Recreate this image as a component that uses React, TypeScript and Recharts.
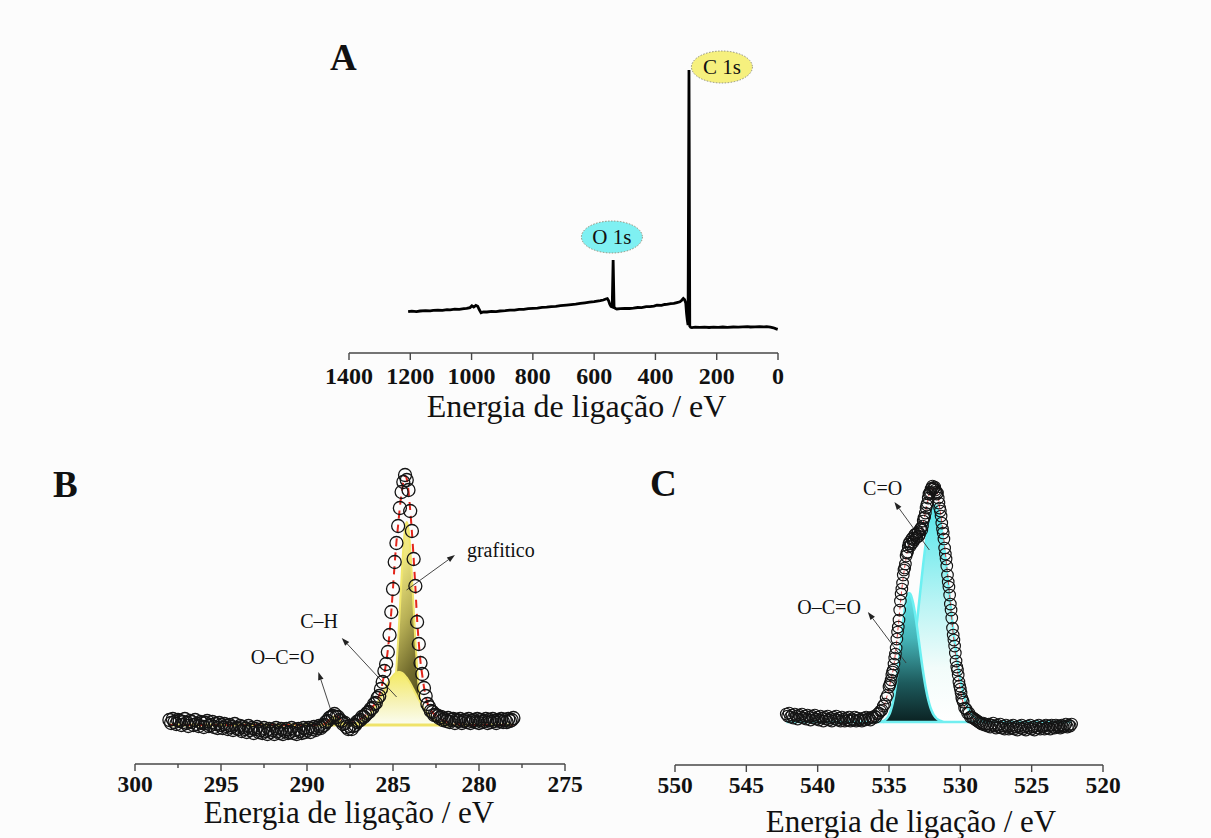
import {
  ComposedChart,
  LineChart,
  Line,
  Area,
  Scatter,
  XAxis,
  YAxis,
  ReferenceLine,
  ReferenceDot,
} from 'recharts'

const SERIF = '"Liberation Serif", "Times New Roman", Times, serif'
const AXIS_TITLE = 'Energia de ligação / eV'
const INK = '#111'
const AXIS_GREY = '#474747'

// A: survey spectrum, [binding energy eV, intensity a.u.]
const surveySpectrum: [number, number][] = [
  [1207, 41.3], [1195, 41.9], [1180, 41.4], [1168, 42.0], [1150, 42.4], [1135, 42.1], [1125, 42.6],
  [1110, 42.9], [1095, 42.6], [1080, 43.3], [1070, 43.2], [1055, 43.8], [1040, 43.6], [1025, 44.3],
  [1016, 44.7], [1005, 45.4], [999, 47.2], [993, 46.0], [986, 47.6], [980, 46.8], [975, 43.5],
  [969, 40.3], [962, 41.1], [950, 41.0], [935, 41.6], [920, 41.4], [907, 42.0], [890, 42.3],
  [875, 42.8], [860, 42.9], [845, 43.6], [830, 43.6], [815, 44.3], [799, 44.7], [785, 44.9],
  [770, 45.6], [755, 45.8], [740, 46.4], [725, 46.6], [710, 47.3], [690, 47.9], [675, 48.4],
  [660, 48.9], [645, 49.7], [630, 50.2], [615, 50.8], [600, 51.4], [590, 51.9], [580, 52.4],
  [570, 53.0], [562, 54.0], [557, 54.4], [553, 52.4], [549, 48.8], [545, 46.5], [541, 46.0],
  [538, 93], [535, 45.5], [530, 44.5], [526, 44.0], [515, 44.4], [500, 44.7], [485, 44.5],
  [472, 44.8], [458, 45.5], [445, 45.4], [430, 46.3], [418, 46.4], [405, 46.9], [395, 47.8],
  [380, 47.6], [370, 48.5], [363, 48.6], [350, 49.3], [340, 49.6], [330, 50.4], [320, 51.2],
  [314, 52.8], [309, 54.6], [305, 53.5], [301, 50.0], [298.5, 40], [296, 33], [293.5, 28],
  [290.5, 283], [288, 27], [285, 25.7], [281, 25.4], [270, 25.8], [255, 25.6], [240, 25.9],
  [225, 25.5], [210, 25.8], [195, 25.6], [180, 26.0], [165, 25.7], [146, 26.0], [130, 25.8],
  [115, 26.2], [100, 26.4], [90, 26.0], [75, 26.1], [60, 26.3], [45, 26.1], [37, 26.3],
  [25, 25.9], [15, 25.2], [8, 24.4], [1, 23.7],
]
const surveyTicks = [1400, 1200, 1000, 800, 600, 400, 200, 0]

// B: C 1s high resolution
const c1sCounts: [number, number][] = [
  [298, 5], [297.9, 2], [297.8, 6], [297.7, 3], [297.6, 1], [297.5, 5], [297.4, 4], [297.3, 0],
  [297.2, 3], [297.1, 6], [297, 2], [296.9, -1], [296.8, 4], [296.7, 3], [296.6, 0], [296.5, 5],
  [296.4, 1], [296.3, -1], [296.2, 3], [296.1, 2], [296, -2], [295.9, 2], [295.8, 4], [295.7, -1],
  [295.6, 0], [295.5, 3], [295.4, -2], [295.3, 1], [295.2, -3], [295.1, 2], [295, 0], [294.9, -3],
  [294.8, 1], [294.7, -1], [294.6, -4], [294.5, 0], [294.4, -2], [294.3, -5], [294.2, 1],
  [294.1, -3], [294, -4], [293.9, -1], [293.8, -6], [293.7, -2], [293.6, -4], [293.5, -7],
  [293.4, -1], [293.3, -5], [293.2, -3], [293.1, -8], [293, -4], [292.9, -2], [292.8, -7],
  [292.7, -5], [292.6, -8], [292.5, -3], [292.4, -6], [292.3, -9], [292.2, -4], [292.1, -7],
  [292, -5], [291.9, -9], [291.8, -3], [291.7, -6], [291.6, -8], [291.5, -4], [291.4, -9],
  [291.3, -6], [291.2, -4], [291.1, -8], [291, -7], [290.9, -3], [290.8, -8], [290.7, -5],
  [290.6, -9], [290.5, -4], [290.4, -6], [290.3, -8], [290.2, -3], [290.1, -7], [290, -5],
  [289.9, -3], [289.8, -7], [289.7, -4], [289.6, -2], [289.5, -5], [289.4, -3], [289.3, -1],
  [289.2, -3], [289.1, -1],
  [289, 0], [288.9, 3], [288.8, 4], [288.7, 7], [288.6, 8], [288.5, 9], [288.4, 11], [288.3, 8],
  [288.2, 8], [288.1, 5], [288, 4], [287.9, 1], [287.8, 2], [287.7, -2], [287.6, -4], [287.5, -1],
  [287.4, -4], [287.3, -1], [287.2, 0], [287.1, 3], [287, 4], [286.9, 5], [286.8, 8], [286.7, 8],
  [286.6, 10],
  [286.5, 12], [286.4, 13], [286.3, 16], [286.2, 17], [286.1, 21], [286, 22], [285.9, 27],
  [285.8, 29], [285.7, 36], [285.6, 43], [285.5, 54], [285.4, 61], [285.3, 73], [285.2, 90],
  [285.1, 113], [285, 136], [284.9, 163], [284.8, 182], [284.7, 199], [284.6, 217], [284.5, 233],
  [284.4, 243], [284.3, 250], [284.2, 245], [284.1, 235], [284, 214], [283.9, 194], [283.8, 166],
  [283.7, 139], [283.6, 103], [283.5, 81], [283.4, 62], [283.3, 51], [283.2, 37], [283.1, 29],
  [283, 21], [282.9, 18], [282.8, 14], [282.7, 13], [282.6, 10],
  [282.5, 10], [282.4, 9], [282.3, 7], [282.2, 8], [282.1, 5], [282, 6], [281.9, 4], [281.8, 7],
  [281.7, 3], [281.6, 5], [281.5, 6], [281.4, 2], [281.3, 5], [281.2, 4], [281.1, 6], [281, 2],
  [280.9, 4], [280.8, 5], [280.7, 3], [280.6, 6], [280.5, 2], [280.4, 4], [280.3, 5], [280.2, 3],
  [280.1, 6], [280, 2], [279.9, 5], [279.8, 3], [279.7, 4], [279.6, 6], [279.5, 2], [279.4, 5],
  [279.3, 3], [279.2, 6], [279.1, 4], [279, 2], [278.9, 5], [278.8, 4], [278.7, 6], [278.6, 3],
  [278.5, 5], [278.4, 3], [278.3, 6], [278.2, 4], [278.1, 5], [278, 7],
]
const c1sEnvelope: [number, number][] = [
  [298, 0], [289.2, 0], [289, 0.8], [288.8, 3.5], [288.6, 7.4], [288.4, 9.3], [288.2, 7.8],
  [288, 4.8], [287.8, 2.8], [287.6, 2], [287.4, 2.5], [287.2, 3.5], [287, 5], [286.8, 7], [286.6, 9.5],
  [286.5, 11], [286.4, 13], [286.3, 15], [286.2, 18], [286.1, 20], [286, 23], [285.9, 26],
  [285.8, 30], [285.7, 35], [285.6, 43], [285.5, 52], [285.4, 62], [285.3, 75], [285.2, 92],
  [285.1, 113], [285, 137], [284.9, 162], [284.8, 183], [284.7, 200], [284.6, 218], [284.5, 232],
  [284.4, 243], [284.3, 249], [284.2, 246], [284.1, 234], [284, 215], [283.9, 193], [283.8, 167],
  [283.7, 138], [283.6, 106], [283.5, 82], [283.4, 63], [283.3, 50], [283.2, 38], [283.1, 29],
  [283, 22], [282.9, 18], [282.8, 15], [282.7, 12.5], [282.6, 11],
  [282.5, 9], [282.25, 6], [282, 4], [281.75, 2.5], [281.5, 1.5], [281, 0.5], [280.5, 0], [278, 0],
]
const c1sGraphitic: [number, number][] = [
  [285.6, 0], [285.5, 0.6], [285.4, 1.4], [285.3, 3], [285.2, 6.4], [285.1, 12], [285, 22],
  [284.9, 37], [284.8, 58], [284.7, 85], [284.6, 117], [284.5, 149], [284.4, 177], [284.3, 196],
  [284.2, 203], [284.1, 196], [284, 177], [283.9, 149], [283.8, 117], [283.7, 85], [283.6, 58],
  [283.5, 37], [283.4, 22], [283.3, 12], [283.2, 6.4], [283.1, 3], [283, 1.4], [282.9, 0.6], [282.8, 0],
]
const c1sCH: [number, number][] = [
  [287.6, 0], [287.4, 0.8], [287.2, 1.5], [287, 2.5], [286.8, 4.1], [286.6, 6.5], [286.5, 8],
  [286.4, 9.7], [286.3, 11.7], [286.2, 14], [286.1, 16.5], [286, 19.3], [285.9, 22.4], [285.8, 25.5],
  [285.7, 28.7], [285.6, 32.1], [285.5, 35.5], [285.4, 38.8], [285.3, 41.9], [285.2, 44.7],
  [285.1, 47.3], [285, 49.4], [284.9, 51.2], [284.8, 52.4], [284.7, 53], [284.6, 53], [284.5, 52.4],
  [284.4, 51.2], [284.3, 49.4], [284.2, 47.3], [284.1, 44.7], [284, 41.9], [283.9, 38.8],
  [283.8, 35.5], [283.7, 32.1], [283.6, 28.7], [283.5, 25.5], [283.4, 22.4], [283.3, 19.3],
  [283.2, 16.5], [283.1, 14], [283, 11.7], [282.9, 9.7], [282.8, 8], [282.7, 6.5], [282.6, 5.2],
  [282.5, 4.1], [282.25, 2.2], [282, 1.1], [281.75, 0.5], [281.5, 0],
]
const c1sOCO: [number, number][] = [
  [289.2, 0], [289, 1.2], [288.8, 3.7], [288.6, 7.2], [288.4, 9], [288.2, 7.2], [288, 3.7],
  [287.8, 1.2], [287.6, 0],
]
const c1sTicks = [300, 297.5, 295, 292.5, 290, 287.5, 285, 282.5, 280, 277.5, 275]

// C: O 1s high resolution
const o1sCounts: [number, number][] = [
  [542.2, 8], [542.1, 6], [542, 9], [541.9, 5], [541.8, 7], [541.7, 4], [541.6, 8], [541.5, 6],
  [541.4, 3], [541.3, 7], [541.2, 5], [541.1, 8], [541, 4], [540.9, 6], [540.8, 3], [540.7, 7],
  [540.6, 5], [540.5, 2], [540.4, 6], [540.3, 4], [540.2, 7], [540.1, 3], [540, 5], [539.9, 2],
  [539.8, 6], [539.7, 4], [539.6, 1], [539.5, 5], [539.4, 3], [539.3, 6], [539.2, 2], [539.1, 4],
  [539, 1], [538.9, 5], [538.8, 3], [538.7, 6], [538.6, 2], [538.5, 4], [538.4, 1], [538.3, 5],
  [538.2, 3], [538.1, 1], [538, 4], [537.9, 2], [537.8, 5], [537.7, 1], [537.6, 3], [537.5, 2],
  [537.4, 5], [537.3, 1], [537.2, 4], [537.1, 2], [537, 3], [536.9, 1], [536.8, 4], [536.7, 2],
  [536.6, 5], [536.5, 3], [536.4, 4], [536.3, 2], [536.2, 5], [536.1, 4], [536, 6], [535.9, 5],
  [535.8, 8], [535.7, 9],
  [535.6, 11], [535.5, 12], [535.4, 16], [535.3, 18], [535.2, 24], [535.1, 27], [535, 35],
  [534.95, 37], [534.9, 39], [534.85, 42], [534.8, 47], [534.75, 50], [534.7, 52], [534.65, 58],
  [534.6, 64], [534.55, 68], [534.5, 74], [534.45, 83], [534.4, 90], [534.35, 95], [534.3, 102],
  [534.25, 112], [534.2, 121], [534.15, 128], [534.1, 133], [534.05, 139], [534, 147],
  [533.95, 152], [533.9, 154], [533.85, 158], [533.8, 166], [533.75, 169], [533.7, 170],
  [533.65, 175], [533.6, 178], [533.55, 180], [533.5, 176], [533.45, 178], [533.4, 183],
  [533.35, 184], [533.3, 180], [533.25, 182], [533.2, 187], [533.15, 188], [533.1, 184],
  [533.05, 185], [533, 189], [532.95, 190], [532.9, 186], [532.85, 188], [532.8, 193],
  [532.75, 194], [532.7, 192], [532.65, 196], [532.6, 201], [532.55, 204], [532.5, 205],
  [532.45, 209], [532.4, 214], [532.35, 217], [532.3, 219], [532.25, 224], [532.2, 228],
  [532.15, 229], [532.1, 230], [532.05, 233], [532, 234], [531.95, 236], [531.9, 233],
  [531.85, 234], [531.8, 235], [531.75, 232], [531.7, 230], [531.65, 228], [531.6, 229],
  [531.55, 224], [531.5, 219], [531.45, 214], [531.4, 211], [531.35, 206], [531.3, 199],
  [531.25, 193], [531.2, 189], [531.15, 183], [531.1, 174], [531.05, 168], [531, 163],
  [530.95, 156], [530.9, 147], [530.85, 140], [530.8, 135], [530.75, 127], [530.7, 118],
  [530.65, 112], [530.6, 104], [530.55, 94], [530.5, 87], [530.45, 82], [530.4, 76], [530.35, 69],
  [530.3, 61], [530.25, 55], [530.2, 52], [530.15, 47], [530.1, 40], [530.05, 36], [530, 33],
  [529.95, 29], [529.9, 24], [529.85, 22], [529.8, 20], [529.7, 14], [529.6, 13], [529.5, 9],
  [529.4, 9], [529.3, 5],
  [529.2, 5], [529.1, 4], [529, 3], [528.9, 2], [528.8, 1], [528.7, 0], [528.6, -1], [528.5, -2],
  [528.4, -1], [528.3, -3], [528.2, -2], [528.1, -4], [528, -2], [527.9, -5], [527.8, -3],
  [527.7, -1], [527.6, -4], [527.5, -6], [527.4, -3], [527.3, -5], [527.2, -2], [527.1, -6],
  [527, -4], [526.9, -7], [526.8, -3], [526.7, -5], [526.6, -7], [526.5, -4], [526.4, -6],
  [526.3, -3], [526.2, -7], [526.1, -5], [526, -8], [525.9, -4], [525.8, -6], [525.7, -3],
  [525.6, -7], [525.5, -5], [525.4, -8], [525.3, -4], [525.2, -6], [525.1, -3], [525, -7],
  [524.9, -5], [524.8, -8], [524.7, -4], [524.6, -6], [524.5, -3], [524.4, -7], [524.3, -5],
  [524.2, -4], [524.1, -7], [524, -3], [523.9, -6], [523.8, -4], [523.7, -7], [523.6, -3],
  [523.5, -5], [523.4, -6], [523.3, -3], [523.2, -5], [523.1, -4], [523, -6], [522.9, -3],
  [522.8, -5], [522.7, -4], [522.6, -2], [522.5, -5], [522.4, -3], [522.3, -4], [522.2, -2],
]
const o1sEnvelope: [number, number][] = [
  [536.25, 0], [535.75, 6], [535.6, 9], [535.5, 11], [535.4, 14], [535.3, 18], [535.2, 23],
  [535.1, 28], [535, 34], [534.9, 40], [534.8, 46], [534.7, 53], [534.6, 63], [534.5, 75],
  [534.4, 89], [534.3, 103], [534.2, 119], [534.1, 133], [534, 145], [533.9, 155], [533.8, 164],
  [533.7, 171], [533.6, 176], [533.5, 179], [533.4, 181], [533.3, 183], [533.2, 185], [533.1, 186],
  [533, 187], [532.9, 189], [532.8, 191], [532.7, 194], [532.6, 199], [532.5, 206], [532.4, 213],
  [532.3, 220], [532.2, 227], [532.1, 231], [532, 233], [531.9, 234], [531.8, 233], [531.7, 231],
  [531.6, 228], [531.5, 220], [531.4, 210], [531.3, 200], [531.2, 188], [531.1, 175], [531, 162],
  [530.9, 148], [530.8, 134], [530.7, 119], [530.6, 103], [530.5, 88], [530.4, 75], [530.3, 62],
  [530.2, 51], [530.1, 41], [530, 32], [529.9, 25], [529.8, 19], [529.7, 15], [529.6, 12],
  [529.5, 10], [529.4, 8], [529.3, 6], [529, 3], [528.5, 0],
]
const o1sCarbonyl: [number, number][] = [
  [535.4, 0], [535.2, 0.6], [535, 1.3], [534.9, 1.8], [534.8, 2.4], [534.7, 3.2], [534.6, 4.3],
  [534.5, 5.6], [534.4, 7.3], [534.3, 9.5], [534.2, 12.1], [534.1, 15.3], [534, 19.3], [533.9, 23.9],
  [533.8, 29.4], [533.7, 36], [533.6, 43], [533.5, 51], [533.4, 60], [533.3, 70], [533.2, 81],
  [533.1, 93], [533, 105], [532.9, 118.5], [532.8, 131.6], [532.7, 145], [532.6, 158], [532.5, 170],
  [532.4, 181.5], [532.3, 191.5], [532.2, 200], [532.1, 207.5], [532, 213], [531.9, 216],
  [531.8, 217], [531.7, 216], [531.6, 213], [531.5, 207.5], [531.4, 200], [531.3, 191.5],
  [531.2, 181.5], [531.1, 170], [531, 158], [530.9, 145], [530.8, 131.6], [530.7, 118.5],
  [530.6, 105], [530.5, 93], [530.4, 81], [530.3, 70], [530.2, 60], [530.1, 51], [530, 43],
  [529.9, 36], [529.8, 29.4], [529.7, 23.9], [529.6, 19.3], [529.5, 15.3], [529.4, 12.1],
  [529.3, 9.5], [529.25, 8.4], [529, 4.3], [528.75, 2.1], [528.5, 1], [528.25, 0.4], [528, 0],
]
const o1sCarboxyl: [number, number][] = [
  [535.6, 0], [535.5, 0.6], [535.4, 1], [535.3, 1.8], [535.2, 2.9], [535.1, 4.6], [535, 7],
  [534.9, 10.5], [534.8, 15.2], [534.7, 21.4], [534.6, 29.2], [534.5, 38.7], [534.4, 49.8],
  [534.3, 62.3], [534.2, 75.5], [534.1, 89], [534, 101.7], [533.9, 113], [533.8, 121.5],
  [533.7, 127], [533.6, 129], [533.5, 127.8], [533.4, 124], [533.3, 118.3], [533.2, 110.6],
  [533.1, 101.4], [533, 91.2], [532.9, 80.4], [532.8, 69.6], [532.7, 59], [532.6, 49.2],
  [532.5, 40.2], [532.4, 32.2], [532.3, 25.3], [532.2, 19.5], [532.1, 14.7], [532, 10.9],
  [531.9, 7.9], [531.8, 5.7], [531.7, 4], [531.6, 2.7], [531.5, 1.8], [531.4, 1.2], [531.3, 0.7],
  [531.2, 0],
]
const o1sTicks = [550, 545, 540, 535, 530, 525, 520]

// join [energy, value] lists into one row table keyed by energy
function mergeSeries(series: Record<string, [number, number][]>) {
  const rows = new Map<number, Record<string, number>>()
  for (const [key, pts] of Object.entries(series)) {
    for (const [e, v] of pts) {
      if (!rows.has(e)) rows.set(e, { e })
      rows.get(e)![key] = v
    }
  }
  return [...rows.values()].sort((a, b) => b.e - a.e)
}

const toPoints = (pts: [number, number][]) => pts.map(([e, v]) => ({ e, v }))

const makeTick = (major: number, labelDy: number, fontSize: number) => (props: any) => {
  const { x, y, payload } = props
  const v = Number(payload.value)
  const isMajor = Math.abs(v / major - Math.round(v / major)) < 1e-6
  const top = y - 7
  return (
    <g>
      <line x1={x} x2={x} y1={top} y2={top + (isMajor ? 7 : 4)} stroke={AXIS_GREY} strokeWidth={1.4} />
      {isMajor && (
        <text x={x} y={y + labelDy} textAnchor="middle" fontFamily={SERIF} fontWeight="bold" fontSize={fontSize} fill={INK}>
          {v}
        </text>
      )}
    </g>
  )
}

const axisTitle = (dx: number, dy: number, fontSize: number) => ({
  content: (p: any) => {
    const vb = p.viewBox || { x: 0, y: 0, width: 0 }
    return (
      <text x={vb.x + vb.width / 2 + dx} y={vb.y + dy} textAnchor="middle" fontFamily={SERIF} fontSize={fontSize} fill={INK}>
        {AXIS_TITLE}
      </text>
    )
  },
})

const hollowCircle = (r: number, w: number) => (p: any) => (
  <circle cx={p.cx} cy={p.cy} r={r} fill="none" stroke="#141414" strokeWidth={w} />
)

function Arrow(props: any) {
  const { x1, y1, x2, y2 } = props
  const a = Math.atan2(y2 - y1, x2 - x1)
  const len = 8
  const half = 2.8
  const bx = x2 - len * Math.cos(a)
  const by = y2 - len * Math.sin(a)
  const pts = `${x2},${y2} ${bx + half * Math.sin(a)},${by - half * Math.cos(a)} ${bx - half * Math.sin(a)},${by + half * Math.cos(a)}`
  return (
    <g>
      <line x1={x1} y1={y1} x2={bx} y2={by} stroke="#333" strokeWidth={0.9} />
      <polygon points={pts} fill="#222" />
    </g>
  )
}

const note = (text: string, anchor: 'start' | 'middle' = 'middle') => (p: any) => (
  <text x={p.cx} y={p.cy} textAnchor={anchor} fontFamily={SERIF} fontSize={20} fill={INK}>
    {text}
  </text>
)

const peakTag = (text: string, fill: string) => (p: any) => (
  <g>
    <ellipse cx={p.cx} cy={p.cy} rx={30.5} ry={16} fill={fill} stroke="#8d8d78" strokeWidth={1} strokeDasharray="1.5 1.5" />
    <text x={p.cx} y={p.cy + 7} textAnchor="middle" fontFamily={SERIF} fontSize={21} fill={INK}>
      {text}
    </text>
  </g>
)

const axisLine = { stroke: AXIS_GREY, strokeWidth: 1.4 }

function SurveyPanel() {
  const data = toPoints(surveySpectrum)
  return (
    <div style={{ position: 'absolute', left: 300, top: 20 }}>
      <LineChart width={520} height={420} data={data} margin={{ top: 41, right: 42, bottom: 17, left: 49 }}>
        <XAxis
          dataKey="e"
          type="number"
          domain={[0, 1400]}
          reversed
          ticks={surveyTicks}
          interval={0}
          height={70}
          tickSize={7}
          tickMargin={0}
          tickLine={false}
          axisLine={axisLine}
          tick={makeTick(200, 23.7, 24)}
          label={axisTitle(13, 64, 32)}
        />
        <YAxis hide type="number" domain={[0, 292]} allowDataOverflow />
        <Line dataKey="v" type="linear" stroke="#000" strokeWidth={2.8} dot={false} isAnimationActive={false} />
        <ReferenceDot x={183} y={286} shape={peakTag('C 1s', '#f6f07e')} />
        <ReferenceDot x={542} y={116} shape={peakTag('O 1s', '#7ff0f2')} />
      </LineChart>
    </div>
  )
}

function CarbonPanel() {
  const rows = mergeSeries({ fit: c1sEnvelope, graphitic: c1sGraphitic, ch: c1sCH, oco: c1sOCO })
  return (
    <div style={{ position: 'absolute', left: 80, top: 455 }}>
      <ComposedChart width={520} height={383} data={rows} margin={{ top: 10, right: 35, bottom: 8, left: 55 }}>
        <defs>
          <linearGradient id="gGraphitic" x1="0" y1="0" x2="0.4" y2="1">
            <stop offset="0%" stopColor="#f9f490" />
            <stop offset="30%" stopColor="#efe780" />
            <stop offset="58%" stopColor="#b7af55" />
            <stop offset="82%" stopColor="#736d2e" />
            <stop offset="100%" stopColor="#57531f" />
          </linearGradient>
          <linearGradient id="gCH" x1="0" y1="0" x2="0" y2="1">
            <stop offset="0%" stopColor="#f4ea62" />
            <stop offset="55%" stopColor="#f6f2b4" />
            <stop offset="100%" stopColor="#fbfdf2" />
          </linearGradient>
        </defs>
        <XAxis
          dataKey="e"
          type="number"
          domain={[275, 300]}
          reversed
          ticks={c1sTicks}
          interval={0}
          height={66}
          tickSize={7}
          tickMargin={0}
          tickLine={false}
          axisLine={axisLine}
          tick={makeTick(5, 21, 23.5)}
          label={axisTitle(-1, 59, 31)}
        />
        <YAxis hide type="number" domain={[-39, 260]} allowDataOverflow />
        <Area dataKey="graphitic" type="monotone" baseValue={0} connectNulls fill="url(#gGraphitic)" fillOpacity={1} stroke="#f1e76c" strokeWidth={2} isAnimationActive={false} />
        <Area dataKey="ch" type="monotone" baseValue={0} connectNulls fill="url(#gCH)" fillOpacity={1} stroke="#f1e76c" strokeWidth={2} isAnimationActive={false} />
        <Area dataKey="oco" type="monotone" baseValue={0} connectNulls fill="#f1e86e" fillOpacity={1} stroke="#e8df60" strokeWidth={1.5} isAnimationActive={false} />
        <Scatter data={toPoints(c1sCounts)} dataKey="v" shape={hollowCircle(6.5, 1.3)} isAnimationActive={false} />
        <ReferenceLine segment={[{ x: 298, y: 0 }, { x: 278, y: 0 }]} stroke="#efe36a" strokeWidth={3} />
        <Line dataKey="fit" type="monotone" stroke="#e3261c" strokeWidth={2} strokeDasharray="8 6" dot={false} connectNulls isAnimationActive={false} />
        <ReferenceLine segment={[{ x: 284.21, y: 135 }, { x: 281.4, y: 170 }]} shape={Arrow} />
        <ReferenceLine segment={[{ x: 284.79, y: 28 }, { x: 287.98, y: 87 }]} shape={Arrow} />
        <ReferenceLine segment={[{ x: 288.56, y: 12 }, { x: 289.34, y: 53 }]} shape={Arrow} />
        <ReferenceDot x={280.7} y={168} shape={note('grafitico', 'start')} />
        <ReferenceDot x={289.3} y={97} shape={note('C–H')} />
        <ReferenceDot x={291.42} y={61} shape={note('O–C=O')} />
      </ComposedChart>
    </div>
  )
}

function OxygenPanel() {
  const rows = mergeSeries({ fit: o1sEnvelope, co: o1sCarbonyl, oco: o1sCarboxyl })
  return (
    <div style={{ position: 'absolute', left: 620, top: 455 }}>
      <ComposedChart width={540} height={383} data={rows} margin={{ top: 10, right: 57, bottom: 7, left: 55 }}>
        <defs>
          <linearGradient id="gCarbonyl" x1="0" y1="0" x2="0" y2="1">
            <stop offset="0%" stopColor="#55e6ea" />
            <stop offset="45%" stopColor="#b9f4f4" />
            <stop offset="75%" stopColor="#f2fcfa" />
            <stop offset="100%" stopColor="#ffffff" />
          </linearGradient>
          <linearGradient id="gCarboxyl" x1="0" y1="0" x2="0" y2="1">
            <stop offset="0%" stopColor="#66e8ec" />
            <stop offset="35%" stopColor="#45b4b8" />
            <stop offset="70%" stopColor="#1d5a5c" />
            <stop offset="100%" stopColor="#0b2222" />
          </linearGradient>
        </defs>
        <XAxis
          dataKey="e"
          type="number"
          domain={[520, 550]}
          reversed
          ticks={o1sTicks}
          interval={0}
          height={66}
          tickSize={7}
          tickMargin={0}
          tickLine={false}
          axisLine={axisLine}
          tick={makeTick(5, 21.3, 23.5)}
          label={axisTitle(22, 67, 31)}
        />
        <YAxis hide type="number" domain={[-43, 257]} allowDataOverflow />
        <Area dataKey="co" type="monotone" baseValue={0} connectNulls fill="url(#gCarbonyl)" fillOpacity={1} stroke="#6cf0f2" strokeWidth={2.5} isAnimationActive={false} />
        <Area dataKey="oco" type="monotone" baseValue={0} connectNulls fill="url(#gCarboxyl)" fillOpacity={1} stroke="#6cf0f2" strokeWidth={2.5} isAnimationActive={false} />
        <Scatter data={toPoints(o1sCounts)} dataKey="v" shape={hollowCircle(5.8, 1.15)} isAnimationActive={false} />
        <ReferenceLine segment={[{ x: 542.2, y: 0 }, { x: 522.2, y: 0 }]} stroke="#72eef0" strokeWidth={2.5} />
        <Line dataKey="fit" type="monotone" stroke="#e04848" strokeWidth={1} strokeDasharray="4 3" dot={false} connectNulls isAnimationActive={false} />
        <ReferenceLine segment={[{ x: 532.17, y: 172 }, { x: 534.62, y: 220 }]} shape={Arrow} />
        <ReferenceLine segment={[{ x: 533.8, y: 59 }, { x: 536.48, y: 110 }]} shape={Arrow} />
        <ReferenceDot x={535.45} y={227} shape={note('C=O')} />
        <ReferenceDot x={539.2} y={108} shape={note('O–C=O')} />
      </ComposedChart>
    </div>
  )
}

export default function App() {
  const letter = { fontFamily: SERIF, fontWeight: 'bold' as const, fontSize: 37, fill: INK }
  return (
    <div style={{ position: 'absolute', left: 0, top: 0, width: 1211, height: 838, background: '#fcfcfc', overflow: 'hidden' }}>
      <SurveyPanel />
      <CarbonPanel />
      <OxygenPanel />
      <svg width={1211} height={838} style={{ position: 'absolute', left: 0, top: 0, pointerEvents: 'none' }}>
        <text x={330} y={70} {...letter}>A</text>
        <text x={53} y={497} {...letter}>B</text>
        <text x={650} y={496} {...letter}>C</text>
      </svg>
    </div>
  )
}
